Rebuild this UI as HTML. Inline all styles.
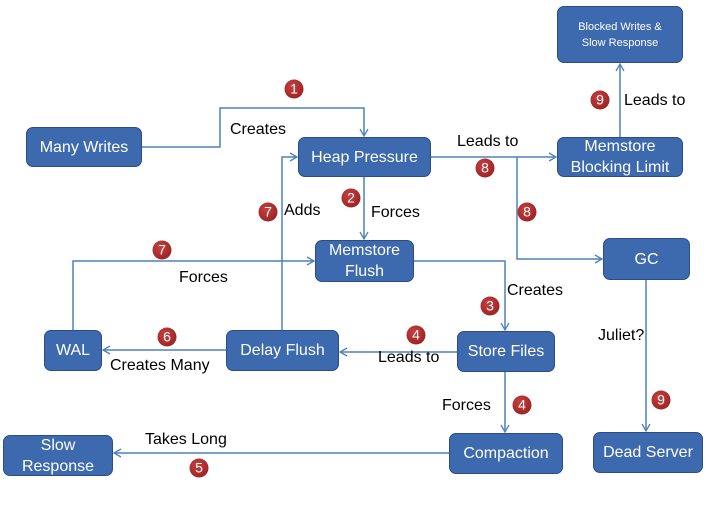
<!DOCTYPE html>
<html><head><meta charset="utf-8"><style>
body{margin:0;background:#fff;width:706px;height:505px;overflow:hidden;font-family:"Liberation Sans",sans-serif}
.b{position:absolute;background:#3d69ae;border:1.5px solid #2a4d82;border-radius:7px;color:#fff;display:flex;align-items:center;justify-content:center;text-align:center;font-size:16px;line-height:21px;box-sizing:border-box}
.l{position:absolute;font-size:16px;color:#000;white-space:nowrap}
.c{position:absolute;width:19px;height:19px;border-radius:50%;background:radial-gradient(circle at 40% 35%,#c84040,#8e1a1a);color:#fff;font-size:14px;line-height:19px;text-align:center;transform:translate(-50%,-50%)}
svg{position:absolute;left:0;top:0}
</style></head><body>
<svg width="706" height="505"><defs><marker id="a" markerWidth="10" markerHeight="10" refX="8" refY="5" orient="auto" markerUnits="userSpaceOnUse"><path d="M1,1 L8,5 L1,9" fill="none" stroke="#4f81bd" stroke-width="1.3"/></marker></defs>
<g fill="none" stroke="#4f81bd" stroke-width="1.5">
<path d="M142,147 H220 V108 H364 V136" marker-end="url(#a)"/>
<path d="M431,157 H556" marker-end="url(#a)"/>
<path d="M517,157 V259 H602" marker-end="url(#a)"/>
<path d="M364,177 V239" marker-end="url(#a)"/>
<path d="M620,137 V64" marker-end="url(#a)"/>
<path d="M282,330 V157 H297" marker-end="url(#a)"/>
<path d="M73,330 V261 H314" marker-end="url(#a)"/>
<path d="M414,261 H505 V330" marker-end="url(#a)"/>
<path d="M457,352 H340" marker-end="url(#a)"/>
<path d="M226,350 H103" marker-end="url(#a)"/>
<path d="M505,372 V432" marker-end="url(#a)"/>
<path d="M449,453 H114" marker-end="url(#a)"/>
<path d="M646,280 V431" marker-end="url(#a)"/>
</g></svg>
<div class="b" style="left:557px;top:6px;width:126px;height:57px;font-size:11px;line-height:16px">Blocked Writes &amp;<br>Slow Response</div>
<div class="b" style="left:26px;top:127px;width:116px;height:40px">Many Writes</div>
<div class="b" style="left:298px;top:137px;width:133px;height:40px">Heap Pressure</div>
<div class="b" style="left:557px;top:137px;width:126px;height:40px">Memstore<br>Blocking Limit</div>
<div class="b" style="left:315px;top:240px;width:99px;height:42px">Memstore<br>Flush</div>
<div class="b" style="left:603px;top:238px;width:87px;height:42px">GC</div>
<div class="b" style="left:44px;top:330px;width:58px;height:41px">WAL</div>
<div class="b" style="left:226px;top:330px;width:113px;height:41px">Delay Flush</div>
<div class="b" style="left:457px;top:331px;width:98px;height:41px">Store Files</div>
<div class="b" style="left:449px;top:433px;width:114px;height:41px">Compaction</div>
<div class="b" style="left:593px;top:432px;width:110px;height:41px">Dead Server</div>
<div class="b" style="left:3px;top:435px;width:110px;height:41px">Slow<br>Response</div>
<div class="l" style="left:230px;top:121px">Creates</div>
<div class="l" style="left:457px;top:133px">Leads to</div>
<div class="l" style="left:624px;top:92px">Leads to</div>
<div class="l" style="left:371px;top:204px">Forces</div>
<div class="l" style="left:284px;top:202px">Adds</div>
<div class="l" style="left:179px;top:269px">Forces</div>
<div class="l" style="left:507px;top:282px">Creates</div>
<div class="l" style="left:598px;top:327px">Juliet?</div>
<div class="l" style="left:378px;top:349px">Leads to</div>
<div class="l" style="left:110px;top:357px">Creates Many</div>
<div class="l" style="left:442px;top:397px">Forces</div>
<div class="l" style="left:145px;top:431px">Takes Long</div>
<div class="c" style="left:294px;top:89px">1</div>
<div class="c" style="left:485px;top:168px">8</div>
<div class="c" style="left:600px;top:100px">9</div>
<div class="c" style="left:351px;top:198px">2</div>
<div class="c" style="left:268px;top:212px">7</div>
<div class="c" style="left:527px;top:212px">8</div>
<div class="c" style="left:162px;top:250px">7</div>
<div class="c" style="left:490px;top:306px">3</div>
<div class="c" style="left:167px;top:337px">6</div>
<div class="c" style="left:416px;top:335px">4</div>
<div class="c" style="left:522px;top:405px">4</div>
<div class="c" style="left:661px;top:400px">9</div>
<div class="c" style="left:199px;top:468px">5</div>
</body></html>
